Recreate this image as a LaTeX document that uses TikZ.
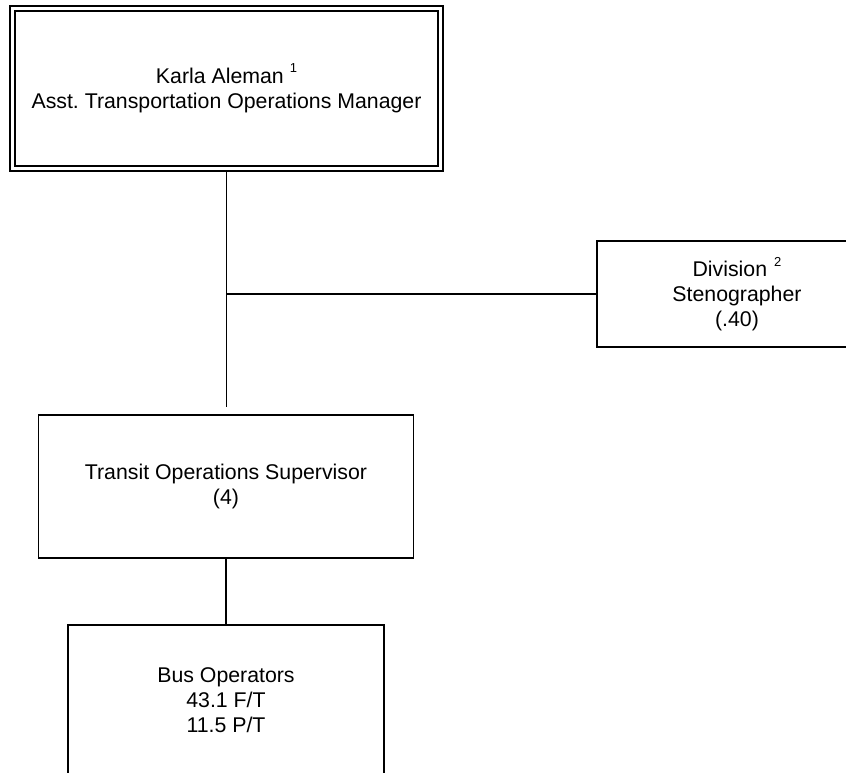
\documentclass[tikz,border=0pt]{standalone}
\usepackage{fontspec}
\setmainfont{Liberation Sans}
\frenchspacing
\newcommand{\supmark}[1]{\raisebox{0.5em}{\fontsize{13}{13}\selectfont #1}}
\begin{document}
\begin{tikzpicture}[x=1pt,y=1pt,
  box/.style={draw=black,line width=1.7pt,rectangle,align=center,inner sep=0pt,
    font=\fontsize{21.3}{25}\selectfont},
  conn/.style={draw=black,line width=1.7pt}]
\useasboundingbox (0,0) rectangle (846,-772);
\clip (0,0) rectangle (846,-772);
\fill[white] (0,0) rectangle (846,-772);
% nodes
\node[box,minimum width=433pt,minimum height=165pt] (top) at (226.5,-88.5)
  {Karla Aleman \supmark{1}\\Asst.\ Transportation Operations Manager};
\draw[line width=1.7pt] ([shift={(6pt,-6pt)}]top.north west) rectangle ([shift={(-6pt,6pt)}]top.south east);
\node[box,minimum width=280pt,minimum height=106pt,text width=280pt] (div) at (737,-294)
  {Division \supmark{2}\\Stenographer\\(.40)};
\node[box,minimum width=375pt,minimum height=143pt] (tos) at (226,-486.5)
  {Transit Operations Supervisor\\(4)};
\node[box,minimum width=316pt,minimum height=150pt] (bus) at (226,-700)
  {Bus Operators\\43.1 F/T\\11.5 P/T};
% connectors
\coordinate (junc) at (top.south |- div.west);
\coordinate (gapend) at ([yshift=7pt]tos.north -| top.south);
\draw[conn] (top.south) -- (gapend);
\draw[conn] (junc) -- (div.west);
\draw[conn] (tos.south) -- (bus.north);
\end{tikzpicture}
\end{document}
